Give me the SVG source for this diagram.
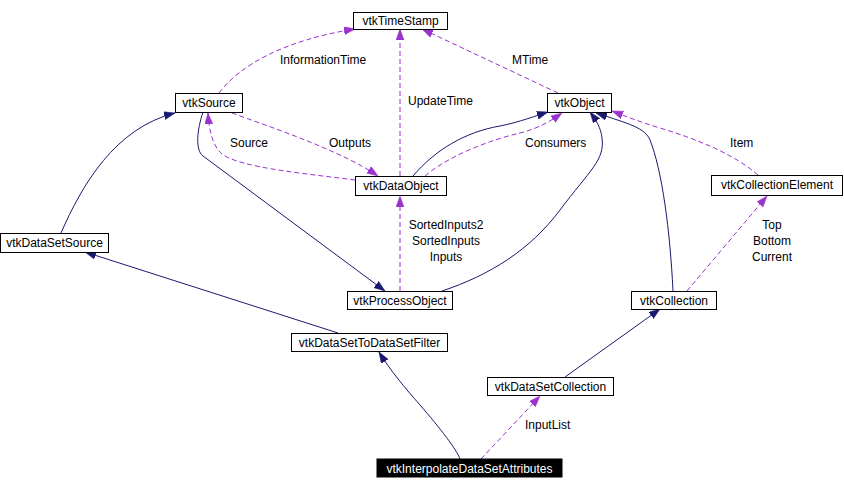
<svg xmlns="http://www.w3.org/2000/svg" width="844" height="490" viewBox="0 0 844 490">
<style>
  text { font-family: "Liberation Sans", Arial, sans-serif; font-size: 12px; fill: #000; }
  .node rect { fill: #fff; stroke: #000; stroke-width: 1; }
  .node text { text-anchor: middle; }
  .node.hl rect { fill: #000; }
  .node.hl text { fill: #fff; }
  .inh { fill: none; stroke: #191970; stroke-width: 1; marker-end: url(#ah-inh); }
  .use { fill: none; stroke: #9a32cd; stroke-width: 1; stroke-dasharray: 5,3; marker-end: url(#ah-use); }
  .lbl { font-size: 12px; }
  .mid { text-anchor: middle; }
</style>
<defs>
  <marker id="ah-inh" markerUnits="userSpaceOnUse" markerWidth="12" markerHeight="9" refX="11" refY="4" orient="auto">
    <path d="M0,0 L11,4 L0,8 z" fill="#191970" stroke="#191970" stroke-width="0.5"/>
  </marker>
  <marker id="ah-use" markerUnits="userSpaceOnUse" markerWidth="12" markerHeight="9" refX="11" refY="4" orient="auto">
    <path d="M0,0 L11,4 L0,8 z" fill="#9a32cd" stroke="#9a32cd" stroke-width="0.5"/>
  </marker>
</defs>
<rect width="844" height="490" fill="#fff"/>

<g id="edges">
  <!-- inheritance -->
  <path class="inh" d="M61,233 C82,185 115,128 175,113"/>
  <path class="inh" d="M203,112 C197,130 195,150 203,156 L385,291"/>
  <path class="inh" d="M338,333 L85,252"/>
  <path class="inh" d="M460,459 C457,450 440,428 420,405 C405,388 390,370 379,352"/>
  <path class="inh" d="M565,377 L660,309"/>
  <path class="inh" d="M673,291 C670,230 662,170 650,140 C645,128 630,124 596,113"/>
  <path class="inh" d="M442,291 C490,275 530,250 560,210 C590,170 605,160 602,138 C601,128 596,120 590,112"/>
  <path class="inh" d="M413,176 C435,150 465,132 500,126 C520,122 535,116 548,112"/>
  <!-- usage -->
  <path class="use" d="M219,93 C240,65 285,40 355,29"/>
  <path class="use" d="M400,176 L400,29"/>
  <path class="use" d="M558,93 L422,29"/>
  <path class="use" d="M232,113 C270,127 340,150 378,176"/>
  <path class="use" d="M355,180 C310,174 240,168 222,154 C212,146 209,128 208,113"/>
  <path class="use" d="M425,176 C450,155 490,140 520,133 C540,128 552,120 562,113"/>
  <path class="use" d="M758,175 C735,155 700,140 660,128 C640,122 625,116 612,111"/>
  <path class="use" d="M687,291 L767,196"/>
  <path class="use" d="M400,291 L400,196"/>
  <path class="use" d="M481,459 L540,396"/>
  <!-- labels -->
  <text class="lbl" x="280" y="64">InformationTime</text>
  <text class="lbl" x="408" y="105">UpdateTime</text>
  <text class="lbl" x="512" y="64">MTime</text>
  <text class="lbl" x="230" y="147">Source</text>
  <text class="lbl" x="329" y="147">Outputs</text>
  <text class="lbl" x="525" y="147">Consumers</text>
  <text class="lbl" x="730" y="147">Item</text>
  <text class="lbl mid" x="446" y="229">SortedInputs2</text>
  <text class="lbl mid" x="446" y="245">SortedInputs</text>
  <text class="lbl mid" x="446" y="261">Inputs</text>
  <text class="lbl mid" x="772" y="229">Top</text>
  <text class="lbl mid" x="772" y="245">Bottom</text>
  <text class="lbl mid" x="772" y="261">Current</text>
  <text class="lbl" x="525" y="429">InputList</text>
</g>

<g id="vtkTimeStamp" class="node"><rect x="353.5" y="12.5" width="94" height="17"/><text x="400.5" y="25">vtkTimeStamp</text></g>
<g id="vtkObject" class="node"><rect x="547.5" y="93.5" width="64" height="19"/><text x="579.5" y="107">vtkObject</text></g>
<g id="vtkSource" class="node"><rect x="175.5" y="93.5" width="67" height="19"/><text x="209" y="107">vtkSource</text></g>
<g id="vtkDataObject" class="node"><rect x="355.5" y="176.5" width="91" height="19"/><text x="401" y="190">vtkDataObject</text></g>
<g id="vtkCollectionElement" class="node"><rect x="711.5" y="175.5" width="131" height="20"/><text x="777" y="189">vtkCollectionElement</text></g>
<g id="vtkDataSetSource" class="node"><rect x="0.5" y="233.5" width="108" height="19"/><text x="54.5" y="247">vtkDataSetSource</text></g>
<g id="vtkProcessObject" class="node"><rect x="347.5" y="291.5" width="105" height="18"/><text x="400" y="305">vtkProcessObject</text></g>
<g id="vtkCollection" class="node"><rect x="631.5" y="291.5" width="85" height="18"/><text x="674" y="305">vtkCollection</text></g>
<g id="vtkDataSetToDataSetFilter" class="node"><rect x="291.5" y="333.5" width="156" height="18"/><text x="369.5" y="347">vtkDataSetToDataSetFilter</text></g>
<g id="vtkDataSetCollection" class="node"><rect x="487.5" y="377.5" width="126" height="18"/><text x="550.5" y="391">vtkDataSetCollection</text></g>
<g id="vtkInterpolateDataSetAttributes" class="node hl"><rect x="377" y="459" width="185" height="18"/><text x="469.5" y="473">vtkInterpolateDataSetAttributes</text></g>
</svg>
